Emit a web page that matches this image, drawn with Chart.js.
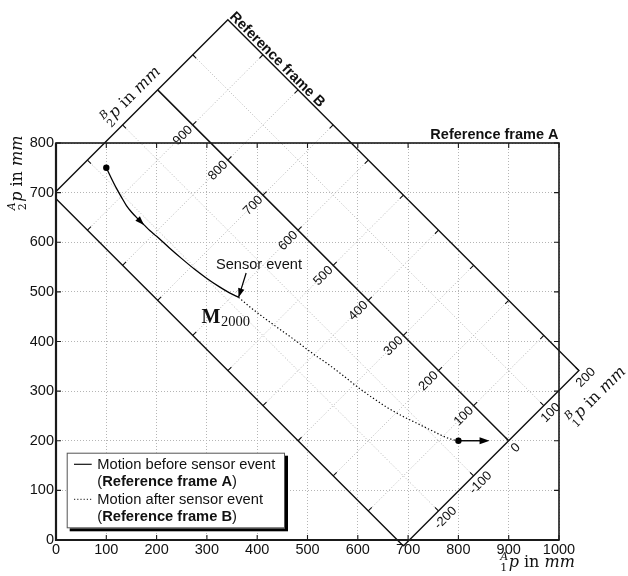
<!DOCTYPE html>
<html>
<head>
<meta charset="utf-8">
<script src="https://cdn.jsdelivr.net/npm/chart.js@4.4.1/dist/chart.umd.min.js"></script>
<style>
  html, body { margin: 0; padding: 0; background: #ffffff; }
  #wrap { width: 628px; height: 576px; }
</style>
</head>
<body>
<div id="wrap"><canvas id="c" width="628" height="576"></canvas></div>
<script>
// ---------------- data ----------------
// Reference frame A axes (mm)
const xTickValues = [0, 100, 200, 300, 400, 500, 600, 700, 800, 900, 1000];
const yTickValues = [0, 100, 200, 300, 400, 500, 600, 700, 800];

// Reference frame B (placed in frame A)
const frameBOrigin = [900, 200];      // origin of B expressed in frame A (mm)
const frameBAngle = 45;               // rotation of B relative to A (deg)
const frameBPixelAspect = 0.987;      // x/y unit-length ratio of the plot box
const b1Range = [-300, 200];
const b2Range = [0, 1000];
const b1TickValues = [-200, -100, 0, 100, 200];
const b2TickValues = [100, 200, 300, 400, 500, 600, 700, 800, 900];
const b1GridValues = [-200, -100, 100];
const b2GridValues = [100, 200, 300, 400, 500, 600, 700, 800, 900];

// Motion before sensor event (frame A coordinates, mm)
const beforeX = [100, 110, 120, 130, 140, 150, 162, 175, 187, 200, 225, 250, 275, 300, 325, 345, 363];
const beforeY = [750, 729, 709, 691, 674, 661, 648, 635, 623, 612, 589, 567, 546, 527, 510, 498, 489];

// Motion after sensor event (drawn in frame A coordinates, mm)
const afterX = [363, 390, 420, 450, 480, 510, 540, 570, 600, 630, 660, 690, 720, 750, 775, 790, 800];
const afterY = [489, 466, 443, 421, 399, 376, 355, 332, 308, 286, 266, 249, 234, 219, 207, 202, 200];

// Exit direction arrow (mm)
const exitArrowX = [800, 862];
const exitArrowY = [200, 200];

// Sensor event annotation (mm)
const sensorTextPos = [403.5, 545.5];
const sensorArrowStart = [378, 538];
const mLabelPos = [289.5, 436.7];

// Text
const labelFrameA = 'Reference frame A';
const labelFrameB = 'Reference frame B';
const labelSensor = 'Sensor event';
const labelMotionBefore = 'Motion before sensor event';
const labelMotionAfter = 'Motion after sensor event';

// ---------------- helpers ----------------
const SANS = '"Liberation Sans", Arial, Helvetica, sans-serif';
const SERIF = '"DejaVu Serif", "Liberation Serif", serif';

function bToA(b1, b2) {
  const t = frameBAngle * Math.PI / 180;
  return [
    frameBOrigin[0] + frameBPixelAspect * (b1 * Math.cos(t) - b2 * Math.sin(t)),
    frameBOrigin[1] + (b1 * Math.sin(t) + b2 * Math.cos(t))
  ];
}
function ptsB(list) {
  return list.map(p => {
    if (!p) return { x: NaN, y: NaN };
    const a = bToA(p[0], p[1]);
    return { x: a[0], y: a[1] };
  });
}
function zipXY(xs, ys) { return xs.map((x, i) => ({ x: x, y: ys[i] })); }

const boxB = ptsB([[b1Range[0], b2Range[0]], [b1Range[1], b2Range[0]], [b1Range[1], b2Range[1]],
                   [b1Range[0], b2Range[1]], [b1Range[0], b2Range[0]]]);
const axisB2 = ptsB([[0, b2Range[0]], [0, b2Range[1]]]);
const gridBList = [];
b1GridValues.forEach(v => { gridBList.push([v, b2Range[0]], [v, b2Range[1]], null); });
b2GridValues.forEach(v => { gridBList.push([b1Range[0], v], [b1Range[1], v], null); });
const gridB = ptsB(gridBList);
const clipB = { left: 0, top: false, right: false, bottom: false };

// ---------------- decoration plugin ----------------
function arrowHead(ctx, tip, from, len, half) {
  const dx = tip[0] - from[0], dy = tip[1] - from[1];
  const l = Math.hypot(dx, dy); const ux = dx / l, uy = dy / l;
  ctx.beginPath();
  ctx.moveTo(tip[0], tip[1]);
  ctx.lineTo(tip[0] - ux * len - uy * half, tip[1] - uy * len + ux * half);
  ctx.lineTo(tip[0] - ux * len + uy * half, tip[1] - uy * len - ux * half);
  ctx.closePath(); ctx.fill();
}

function mathLabel(ctx, cx, cy, angle, pre, sub) {
  const big = 16, small = 11;
  ctx.save();
  ctx.translate(cx, cy); ctx.rotate(angle);
  ctx.fillStyle = '#111'; ctx.textAlign = 'left'; ctx.textBaseline = 'alphabetic';
  ctx.font = `italic ${small}px ${SERIF}`; const wPre = ctx.measureText(pre).width;
  ctx.font = `${small}px ${SERIF}`; const wSub = ctx.measureText(sub).width;
  const wScript = Math.max(wPre, wSub) + 0.5;
  ctx.font = `italic ${big}px ${SERIF}`; const wP = ctx.measureText('p').width;
  ctx.font = `${big}px ${SERIF}`; const wIn = ctx.measureText(' in ').width;
  ctx.font = `italic ${big}px ${SERIF}`; const wMM = ctx.measureText('mm').width;
  const total = wScript + wP + wIn + wMM;
  let x = -total / 2; const base = 4;
  ctx.font = `italic ${small}px ${SERIF}`; ctx.fillText(pre, x, base - 7);
  ctx.font = `${small}px ${SERIF}`; ctx.fillText(sub, x, base + 4);
  x += wScript;
  ctx.font = `italic ${big}px ${SERIF}`; ctx.fillText('p', x, base); x += wP;
  ctx.font = `${big}px ${SERIF}`; ctx.fillText(' in ', x, base); x += wIn;
  ctx.font = `italic ${big}px ${SERIF}`; ctx.fillText('mm', x, base);
  ctx.restore();
}

const decor = {
  id: 'decor',
  afterDatasetsDraw(chart) {
    const ctx = chart.ctx, xs = chart.scales.x, ys = chart.scales.y;
    const P = (x, y) => [xs.getPixelForValue(x), ys.getPixelForValue(y)];
    const PB = (b1, b2) => { const a = bToA(b1, b2); return P(a[0], a[1]); };
    const o = PB(0, 0), e1 = PB(1, 0), e2 = PB(0, 1);
    const norm = v => { const l = Math.hypot(v[0], v[1]); return [v[0] / l, v[1] / l]; };
    const u1 = norm([e1[0] - o[0], e1[1] - o[1]]);
    const u2 = norm([e2[0] - o[0], e2[1] - o[1]]);
    const add = (p, v, s) => [p[0] + v[0] * s, p[1] + v[1] * s];
    const seg = (a, b) => { ctx.moveTo(a[0], a[1]); ctx.lineTo(b[0], b[1]); };
    const TL = 5;

    ctx.save();
    // frame B tick marks
    ctx.strokeStyle = '#111'; ctx.lineWidth = 1.1; ctx.beginPath();
    b1TickValues.forEach(b1 => { const p = PB(b1, b2Range[0]); seg(p, add(p, u2, TL)); });
    b1TickValues.forEach(b1 => {
      if (b1 > b1Range[0] && b1 < b1Range[1] && b1 !== 0) { const p = PB(b1, b2Range[1]); seg(p, add(p, u2, -TL)); }
    });
    b2TickValues.forEach(b2 => {
      let p = PB(b1Range[1], b2); seg(p, add(p, u1, -TL));
      p = PB(b1Range[0], b2); seg(p, add(p, u1, TL));
      p = PB(0, b2); seg(p, add(p, u1, TL));
    });
    ctx.stroke();

    // frame B tick labels
    const ang = Math.atan2(u1[1], u1[0]);
    ctx.fillStyle = '#111'; ctx.font = `13px ${SANS}`;
    b1TickValues.forEach(b1 => {
      const p = add(PB(b1, b2Range[0]), u2, -9.5);
      ctx.save(); ctx.translate(p[0], p[1]); ctx.rotate(ang);
      ctx.textAlign = 'center'; ctx.textBaseline = 'middle'; ctx.fillText(String(b1), 0, 0.5);
      ctx.restore();
    });
    b2TickValues.forEach(b2 => {
      const p = add(PB(0, b2), u1, -3.5);
      ctx.save(); ctx.translate(p[0], p[1]); ctx.rotate(ang);
      ctx.textAlign = 'right'; ctx.textBaseline = 'middle'; ctx.fillText(String(b2), 0, 0.5);
      ctx.restore();
    });

    // "Reference frame B"
    {
      const c = PB(b1Range[1], b2Range[1]);
      const p = add(add(c, u1, 2.5), u2, 1);
      ctx.save(); ctx.translate(p[0], p[1]); ctx.rotate(Math.atan2(-u2[1], -u2[0]));
      ctx.font = `bold 14.5px ${SANS}`; ctx.textAlign = 'left'; ctx.textBaseline = 'alphabetic';
      ctx.fillText(labelFrameB, 0, 0);
      ctx.restore();
    }
    // axis labels of frame B
    { const p = PB(-45, 1028); mathLabel(ctx, p[0], p[1], ang, 'B', '2'); }
    { const p = PB(190, -62); mathLabel(ctx, p[0], p[1], ang, 'B', '1'); }

    // arrows on the motion path
    ctx.fillStyle = '#000'; ctx.strokeStyle = '#000';
    {
      const i = beforeX.indexOf(175);
      arrowHead(ctx, P(beforeX[i], beforeY[i]), P(beforeX[i - 1], beforeY[i - 1]), 9, 3.2);
      const a = P(exitArrowX[0], exitArrowY[0]), b = P(exitArrowX[1], exitArrowY[1]);
      ctx.lineWidth = 1.4; ctx.beginPath(); seg(a, [b[0] - 6, b[1]]); ctx.stroke();
      arrowHead(ctx, b, a, 10, 3.6);
    }
    // Sensor event annotation
    {
      const n = beforeX.length - 1;
      const tip = P(beforeX[n], beforeY[n]);
      const start = P(sensorArrowStart[0], sensorArrowStart[1]);
      ctx.lineWidth = 1.2; ctx.beginPath(); seg(start, tip); ctx.stroke();
      arrowHead(ctx, tip, start, 9, 3.2);
      const t = P(sensorTextPos[0], sensorTextPos[1]);
      ctx.font = `14.6px ${SANS}`; ctx.textAlign = 'center'; ctx.textBaseline = 'alphabetic';
      ctx.fillStyle = '#111'; ctx.fillText(labelSensor, t[0], t[1]);
      // M_2000
      const m = P(mLabelPos[0], mLabelPos[1]);
      ctx.textAlign = 'left';
      ctx.font = `bold 20px "Liberation Serif", serif`; ctx.fillText('M', m[0], m[1]);
      const wm = ctx.measureText('M').width;
      ctx.font = `14.5px "Liberation Serif", serif`; ctx.fillText('2000', m[0] + wm + 0.5, m[1] + 3);
    }
    ctx.restore();
  },
  afterDraw(chart) {
    const ctx = chart.ctx, ca = chart.chartArea, xs = chart.scales.x, ys = chart.scales.y;
    ctx.save();
    // frame A box + inward ticks
    ctx.strokeStyle = '#1a1a1a';
    ctx.lineWidth = 1.6;
    ctx.strokeRect(ca.left, ca.top, ca.right - ca.left, ca.bottom - ca.top);
    ctx.lineWidth = 2.2; ctx.beginPath();
    ctx.moveTo(ca.left, ca.top); ctx.lineTo(ca.left, ca.bottom); ctx.lineTo(ca.right, ca.bottom); ctx.stroke();
    ctx.lineWidth = 1.1; ctx.beginPath();
    xTickValues.forEach(v => {
      const px = xs.getPixelForValue(v);
      ctx.moveTo(px, ca.bottom); ctx.lineTo(px, ca.bottom - 5);
      ctx.moveTo(px, ca.top); ctx.lineTo(px, ca.top + 5);
    });
    yTickValues.forEach(v => {
      const py = ys.getPixelForValue(v);
      ctx.moveTo(ca.left, py); ctx.lineTo(ca.left + 5, py);
      ctx.moveTo(ca.right, py); ctx.lineTo(ca.right - 5, py);
    });
    ctx.stroke();

    // "Reference frame A"
    ctx.fillStyle = '#111';
    ctx.font = `bold 14.5px ${SANS}`; ctx.textAlign = 'right'; ctx.textBaseline = 'alphabetic';
    ctx.fillText(labelFrameA, ca.right - 0.5, ca.top - 3.7);

    // axis titles of frame A
    mathLabel(ctx, ca.right - 21.5, ca.bottom + 23, 0, 'A', '1');
    mathLabel(ctx, 18, ca.top + 30, -Math.PI / 2, 'A', '2');

    // legend
    const L = ca.left + 10.7, T = ca.top + 309.7, W = 218.3, H = 75.6;
    ctx.fillStyle = '#000'; ctx.fillRect(L + 3, T + 3, W, H);
    ctx.fillStyle = '#fff'; ctx.fillRect(L, T, W, H);
    ctx.strokeStyle = '#555'; ctx.lineWidth = 1; ctx.strokeRect(L + 0.5, T + 0.5, W - 1, H - 1);
    const rows = [T + 11.6, T + 29.1, T + 46.6, T + 64.1];
    ctx.strokeStyle = '#111'; ctx.lineWidth = 1.2;
    ctx.beginPath(); ctx.moveTo(L + 7.3, rows[0]); ctx.lineTo(L + 25, rows[0]); ctx.stroke();
    ctx.setLineDash([1.2, 2]); ctx.strokeStyle = '#444';
    ctx.beginPath(); ctx.moveTo(L + 7.3, rows[2]); ctx.lineTo(L + 25, rows[2]); ctx.stroke();
    ctx.setLineDash([]);
    ctx.fillStyle = '#111'; ctx.textAlign = 'left'; ctx.textBaseline = 'middle';
    const tx = L + 30.6;
    const fontN = `14.7px ${SANS}`, fontB = `bold 14.7px ${SANS}`;
    ctx.font = fontN; ctx.fillText(labelMotionBefore, tx, rows[0] + 0.5);
    ctx.fillText(labelMotionAfter, tx, rows[2] + 0.5);
    const paren = (y, txt) => {
      let x = tx;
      ctx.font = fontN; ctx.fillText('(', x, y); x += ctx.measureText('(').width;
      ctx.font = fontB; ctx.fillText(txt, x, y); x += ctx.measureText(txt).width;
      ctx.font = fontN; ctx.fillText(')', x, y);
    };
    paren(rows[1] + 0.5, labelFrameA);
    paren(rows[3] + 0.5, labelFrameB);
    ctx.restore();
  }
};

// ---------------- chart ----------------
const gridColor = '#b5b5b5';
new Chart(document.getElementById('c'), {
  type: 'scatter',
  data: {
    datasets: [
      { label: 'markers', data: [{ x: beforeX[0], y: beforeY[0] }, { x: afterX[afterX.length - 1], y: afterY[afterY.length - 1] }],
        pointRadius: 3.2, pointBackgroundColor: '#000', pointBorderWidth: 0, showLine: false },
      { label: labelMotionBefore, data: zipXY(beforeX, beforeY), showLine: true, borderColor: '#000',
        borderWidth: 1.3, pointRadius: 0, cubicInterpolationMode: 'monotone' },
      { label: labelMotionAfter, data: zipXY(afterX, afterY), showLine: true, borderColor: '#000',
        borderWidth: 1.2, borderDash: [1.3, 2.2], pointRadius: 0, cubicInterpolationMode: 'monotone' },
      { label: 'B2 axis', data: axisB2, showLine: true, borderColor: '#111', borderWidth: 1.5, pointRadius: 0, clip: clipB },
      { label: 'frame B', data: boxB, showLine: true, borderColor: '#111', borderWidth: 1.4, pointRadius: 0, clip: clipB },
      { label: 'frame B grid', data: gridB, showLine: true, borderColor: gridColor, borderWidth: 1,
        borderDash: [1, 2], pointRadius: 0, spanGaps: false, clip: clipB }
    ]
  },
  options: {
    responsive: false,
    animation: false,
    devicePixelRatio: 1,
    events: [],
    layout: { padding: { left: 0, top: 143, right: 69, bottom: 0 } },
    plugins: { legend: { display: false }, tooltip: { enabled: false } },
    scales: {
      x: {
        type: 'linear', min: 0, max: 1000,
        afterFit(s) { s.height = 36; },
        afterBuildTicks(s) { s.ticks = xTickValues.map(v => ({ value: v })); },
        ticks: { font: { family: SANS, size: 14.5 }, color: '#111', padding: 1, maxRotation: 0, autoSkip: false,
                 callback: v => String(v) },
        grid: { color: gridColor, lineWidth: 1, drawTicks: false },
        border: { display: false, dash: [1, 2] }
      },
      y: {
        type: 'linear', min: 0, max: 800,
        afterFit(s) { s.width = 56; },
        afterBuildTicks(s) { s.ticks = yTickValues.map(v => ({ value: v })); },
        ticks: { font: { family: SANS, size: 14.5 }, color: '#111', padding: 2, autoSkip: false,
                 callback: v => String(v) },
        grid: { color: gridColor, lineWidth: 1, drawTicks: false },
        border: { display: false, dash: [1, 2] }
      }
    }
  },
  plugins: [decor]
});
</script>
</body>
</html>
